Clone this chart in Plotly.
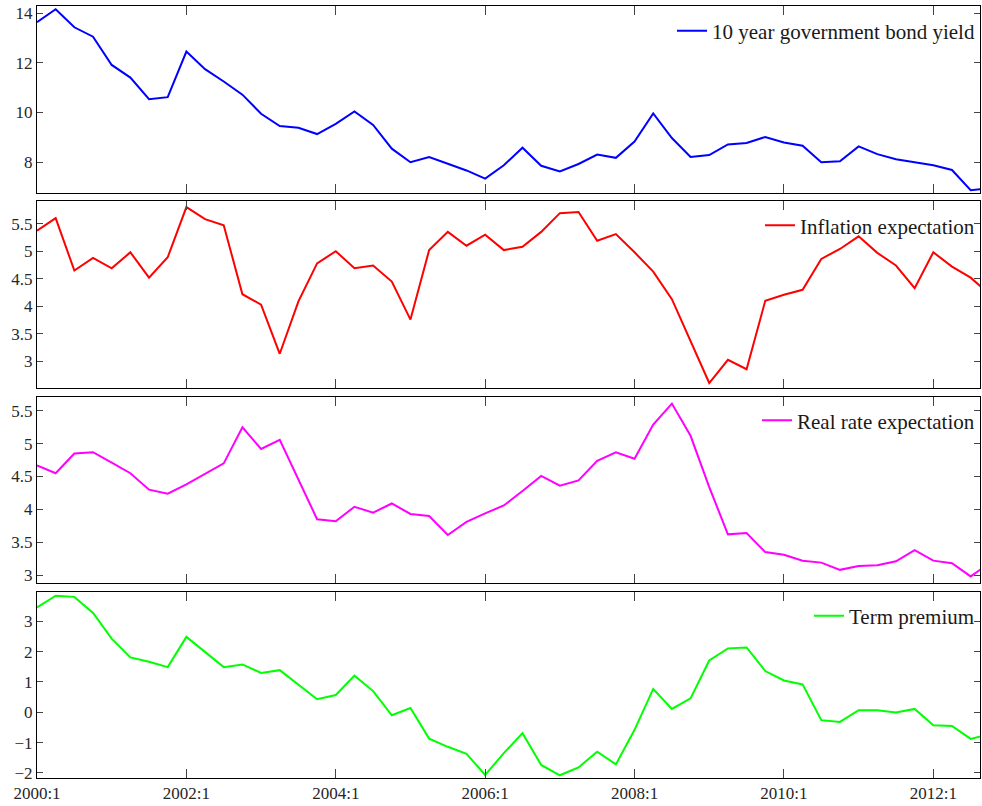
import plotly.graph_objects as go

# ---------------- data ----------------
quarters = [f"{y}:{q}" for y in range(2000, 2013) for q in range(1, 5)]

bond_yield = [13.65, 14.17, 13.44, 13.06, 11.92, 11.41, 10.54, 10.62, 12.46, 11.75,
              11.25, 10.72, 9.95, 9.45, 9.38, 9.13, 9.54, 10.04, 9.50, 8.54,
              7.99, 8.20, 7.93, 7.66, 7.33, 7.87, 8.58, 7.85, 7.62, 7.92,
              8.30, 8.17, 8.83, 9.96, 8.97, 8.20, 8.28, 8.71, 8.77, 9.01,
              8.79, 8.66, 7.99, 8.03, 8.63, 8.32, 8.11, 7.99, 7.87, 7.68,
              6.86, 6.95]

inflation_exp = [5.37, 5.60, 4.65, 4.88, 4.69, 4.98, 4.52, 4.89, 5.80, 5.58,
                 5.47, 4.22, 4.03, 3.14, 4.09, 4.78, 5.00, 4.69, 4.74, 4.45,
                 3.76, 5.02, 5.35, 5.10, 5.30, 5.02, 5.08, 5.35, 5.69, 5.71,
                 5.19, 5.31, 4.98, 4.63, 4.13, 3.37, 2.61, 3.03, 2.86, 4.10,
                 4.21, 4.30, 4.86, 5.04, 5.27, 4.97, 4.74, 4.33, 4.98, 4.72,
                 4.52, 4.22]

real_rate_exp = [4.67, 4.55, 4.85, 4.87, 4.71, 4.55, 4.30, 4.24, 4.38, 4.54,
                 4.70, 5.25, 4.92, 5.06, 4.45, 3.85, 3.82, 4.04, 3.95, 4.09,
                 3.93, 3.90, 3.61, 3.81, 3.94, 4.06, 4.28, 4.51, 4.36, 4.44,
                 4.74, 4.87, 4.77, 5.29, 5.61, 5.12, 4.34, 3.62, 3.64, 3.35,
                 3.31, 3.22, 3.19, 3.08, 3.14, 3.15, 3.21, 3.38, 3.22, 3.18,
                 2.98, 3.18]

term_premium = [3.46, 3.85, 3.81, 3.28, 2.43, 1.81, 1.67, 1.49, 2.49, 2.00,
                1.49, 1.58, 1.30, 1.39, 0.92, 0.43, 0.57, 1.21, 0.70, -0.10,
                0.14, -0.87, -1.14, -1.37, -2.07, -1.35, -0.69, -1.74, -2.08, -1.82,
                -1.30, -1.72, -0.58, 0.77, 0.11, 0.46, 1.71, 2.11, 2.14, 1.36,
                1.05, 0.92, -0.26, -0.32, 0.07, 0.07, -0.01, 0.11, -0.43, -0.45,
                -0.88, -0.72]

x_tick_labels = ["2000:1", "2002:1", "2004:1", "2006:1", "2008:1", "2010:1", "2012:1"]

series_names = ["10 year government bond yield", "Inflation expectation",
                "Real rate expectation", "Term premium"]
series_values = [bond_yield, inflation_exp, real_rate_exp, term_premium]
series_colors = ["#0000FF", "#FF0000", "#FF00FF", "#00FF00"]

y_ranges = [[6.75, 14.3], [2.52, 5.91], [2.88, 5.71], [-2.17, 3.97]]
y_ticks = [[8, 10, 12, 14],
           [3, 3.5, 4, 4.5, 5, 5.5],
           [3, 3.5, 4, 4.5, 5, 5.5],
           [-2, -1, 0, 1, 2, 3]]

# ---------------- layout geometry ----------------
domains = [[0.7578, 1.0], [0.5052, 0.7474], [0.2526, 0.4935], [0.0, 0.2409]]
legend_y = [0.9676, 0.7154, 0.4628, 0.2098]

FONT = "Liberation Serif, Times New Roman, serif"

fig = go.Figure()
layout = dict(
    width=982, height=806,
    margin=dict(l=37, r=2, t=6, b=28),
    paper_bgcolor="white", plot_bgcolor="white",
    font=dict(family=FONT, size=17, color="#262626"),
    showlegend=True,
)

for i in range(4):
    n = "" if i == 0 else str(i + 1)
    leg = "legend" if i == 0 else f"legend{i + 1}"
    fig.add_trace(go.Scatter(
        x=quarters, y=series_values[i], mode="lines",
        line=dict(color=series_colors[i], width=2),
        name=series_names[i],
        xaxis=f"x{n}", yaxis=f"y{n}",
        legend=leg, showlegend=True,
    ))
    layout[f"xaxis{n}"] = dict(
        domain=[0, 1], anchor=f"y{n}", type="category",
        range=[0, 50.5],
        tickmode="array", tickvals=x_tick_labels, ticktext=x_tick_labels,
        ticks="inside", ticklen=9, tickwidth=1, tickcolor="#444",
        showline=True, linecolor="black", linewidth=1, mirror="ticks",
        showgrid=False, zeroline=False,
        showticklabels=(i == 3),
        tickfont=dict(family=FONT, size=17, color="#262626"),
    )
    layout[f"yaxis{n}"] = dict(
        domain=domains[i], anchor=f"x{n}",
        range=y_ranges[i],
        tickmode="array", tickvals=y_ticks[i],
        ticks="inside", ticklen=6, tickwidth=1, tickcolor="#444",
        showline=True, linecolor="black", linewidth=1, mirror="ticks",
        showgrid=False, zeroline=False,
        tickfont=dict(family=FONT, size=17, color="#262626"),
    )
    layout[leg] = dict(
        x=1.0, xanchor="right", y=legend_y[i], yanchor="middle",
        bgcolor="rgba(0,0,0,0)", borderwidth=0,
        font=dict(family=FONT, size=21, color="#1a1a1a"),
    )

fig.update_layout(**layout)
fig.write_html(
    "out.html",
    config={"displayModeBar": False},
    post_script="document.body.style.margin='0';document.body.style.overflow='hidden';",
)
